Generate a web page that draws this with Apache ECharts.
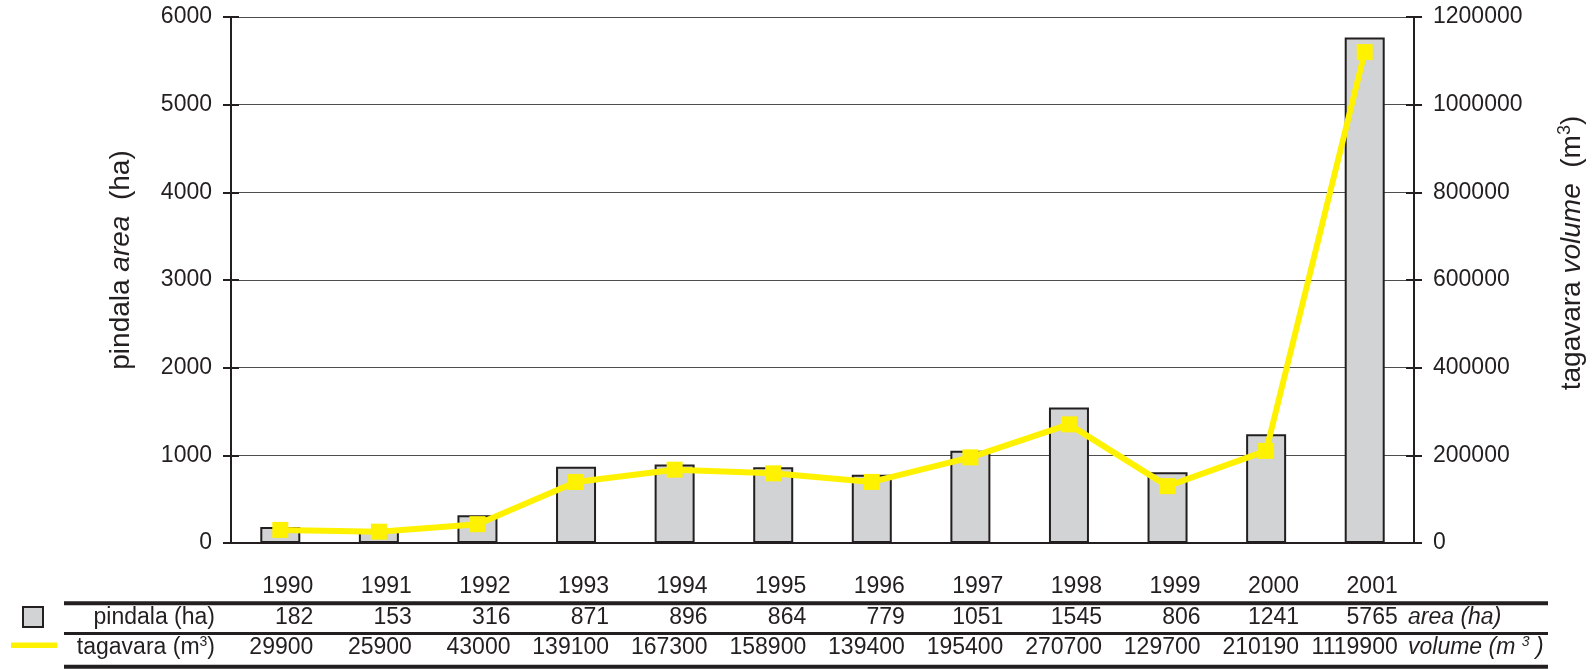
<!DOCTYPE html>
<html>
<head>
<meta charset="utf-8">
<script src="https://cdn.jsdelivr.net/npm/echarts@6/dist/echarts.min.js"></script>
<style>
html,body{margin:0;padding:0;background:#fff;}
#chart{width:1594px;height:669px;}
</style>
</head>
<body>
<div id="chart"></div>
<script>
const years = ['1990','1991','1992','1993','1994','1995','1996','1997','1998','1999','2000','2001'];
const areaHa = [182,153,316,871,896,864,779,1051,1545,806,1241,5765];
const volumeM3 = [29900,25900,43000,139100,167300,158900,139400,195400,270700,129700,210190,1119900];
const areaTicks = {min:0, max:6000, interval:1000};
const volumeTicks = {min:0, max:1200000, interval:200000};

const FONT = '"Liberation Sans", Arial, Helvetica, sans-serif';
const INK = '#231f20';
const YELLOW = '#fff200';
const GREY = '#d1d3d4';

const chart = echarts.init(document.getElementById('chart'), null, {renderer:'canvas'});

const baseY = {
  type:'value',
  axisLine:{show:true, lineStyle:{color:INK, width:2}},
  axisLabel:{show:false},
  splitLine:{show:false},
  axisTick:{show:true, inside:true, length:8, lineStyle:{color:INK, width:2}}
};
const plain = v => String(v);

const option = {
  backgroundColor:'#fff',
  animation:false,
  grid:{left:231, right:180, top:17, bottom:126, containLabel:false},
  xAxis:{
    type:'category', data:years, boundaryGap:true,
    axisLine:{show:true, lineStyle:{color:INK, width:2}},
    axisTick:{show:false}, axisLabel:{show:false}
  },
  yAxis:[
    {type:'value', position:'left', min:areaTicks.min, max:areaTicks.max, interval:areaTicks.interval,
     axisLine:{show:true, lineStyle:{color:INK, width:2}},
     axisTick:{show:true, length:8, lineStyle:{color:INK, width:2}},
     axisLabel:{margin:19, fontFamily:FONT, fontSize:23, color:INK, formatter:plain},
     splitLine:{show:true, lineStyle:{color:'#4d4d4d', width:1.2}}},
    {type:'value', position:'right', min:volumeTicks.min, max:volumeTicks.max, interval:volumeTicks.interval,
     axisLine:{show:true, lineStyle:{color:INK, width:2}},
     axisTick:{show:true, length:8, lineStyle:{color:INK, width:2}},
     axisLabel:{margin:19, fontFamily:FONT, fontSize:23, color:INK, formatter:plain},
     splitLine:{show:false}},
    Object.assign({}, baseY, {position:'left', min:areaTicks.min, max:areaTicks.max, interval:areaTicks.interval}),
    Object.assign({}, baseY, {position:'right', min:volumeTicks.min, max:volumeTicks.max, interval:volumeTicks.interval})
  ],
  series:[
    {type:'bar', name:'pindala (ha)', data:areaHa, yAxisIndex:0, barWidth:40,
     itemStyle:{color:GREY, borderColor:INK, borderWidth:2}, z:2},
    {type:'line', name:'tagavara (m3)', data:volumeM3, yAxisIndex:1,
     symbol:'rect', symbolSize:16, showSymbol:true,
     lineStyle:{color:YELLOW, width:6}, itemStyle:{color:YELLOW, borderWidth:0}, z:5}
  ]
};
chart.setOption(option);

// table & titles
const g = [];
const txt = (x, y, text, extra) => Object.assign({
  type:'text', x:x, y:y, silent:true,
  style:Object.assign({text:text, fontFamily:FONT, fontSize:23, fill:INK, align:'right', verticalAlign:'middle'}, extra||{})
});
const rowYear = 587, row1 = 618, row2 = 648;
years.forEach((yr, i) => {
  const cx = chart.convertToPixel({xAxisIndex:0}, i);
  g.push(txt(cx + 33, rowYear, yr));
  g.push(txt(cx + 33, row1, String(areaHa[i])));
  g.push(txt(cx + 33, row2, String(volumeM3[i])));
});
// rules
const rule = (y, w) => ({type:'rect', silent:true, shape:{x:64, y:y - w/2, width:1484, height:w}, style:{fill:INK}});
g.push(rule(603.3, 4), rule(633.6, 3), rule(666.7, 4));
// legend marks
g.push({type:'rect', silent:true, shape:{x:23, y:607, width:20, height:20}, style:{fill:GREY, stroke:INK, lineWidth:2}});
g.push({type:'rect', silent:true, shape:{x:11, y:642.5, width:46, height:5.5}, style:{fill:YELLOW}});
const supRich = {
  n:{fontFamily:FONT, fontSize:23, fill:INK, lineHeight:26},
  i:{fontFamily:FONT, fontSize:23, fill:INK, fontStyle:'italic', lineHeight:26},
  s:{fontFamily:FONT, fontSize:14, fill:INK, verticalAlign:'top', lineHeight:14},
  si:{fontFamily:FONT, fontSize:14, fill:INK, fontStyle:'italic', verticalAlign:'top', lineHeight:14}
};
g.push(txt(215, row1, 'pindala (ha)'));
g.push({type:'text', x:215, y:row2, silent:true,
  style:{text:'{n|tagavara (m}{s|3}{n|)}', rich:supRich, align:'right', verticalAlign:'middle'}});
g.push(txt(1408, row1, 'area (ha)', {align:'left', fontStyle:'italic'}));
g.push({type:'text', x:1408, y:row2, silent:true,
  style:{text:'{i|volume (m }{si|3}{i| )}', rich:supRich, align:'left', verticalAlign:'middle'}});
// axis titles
const titleRich = {
  n:{fontFamily:FONT, fontSize:28, fill:INK, lineHeight:32},
  i:{fontFamily:FONT, fontSize:28, fill:INK, fontStyle:'italic', lineHeight:32},
  s:{fontFamily:FONT, fontSize:18, fill:INK, verticalAlign:'top', lineHeight:18}
};
g.push({type:'text', x:121, y:260, rotation:Math.PI/2, silent:true,
  style:{text:'{n|pindala }{i|area}{n|  (ha)}', rich:titleRich, align:'center', verticalAlign:'middle'}});
g.push({type:'text', x:1572, y:253, rotation:Math.PI/2, silent:true,
  style:{text:'{n|tagavara }{i|volume}{n|  (m}{s|3}{n|)}', rich:titleRich, align:'center', verticalAlign:'middle'}});

chart.setOption({graphic:g});
</script>
</body>
</html>
